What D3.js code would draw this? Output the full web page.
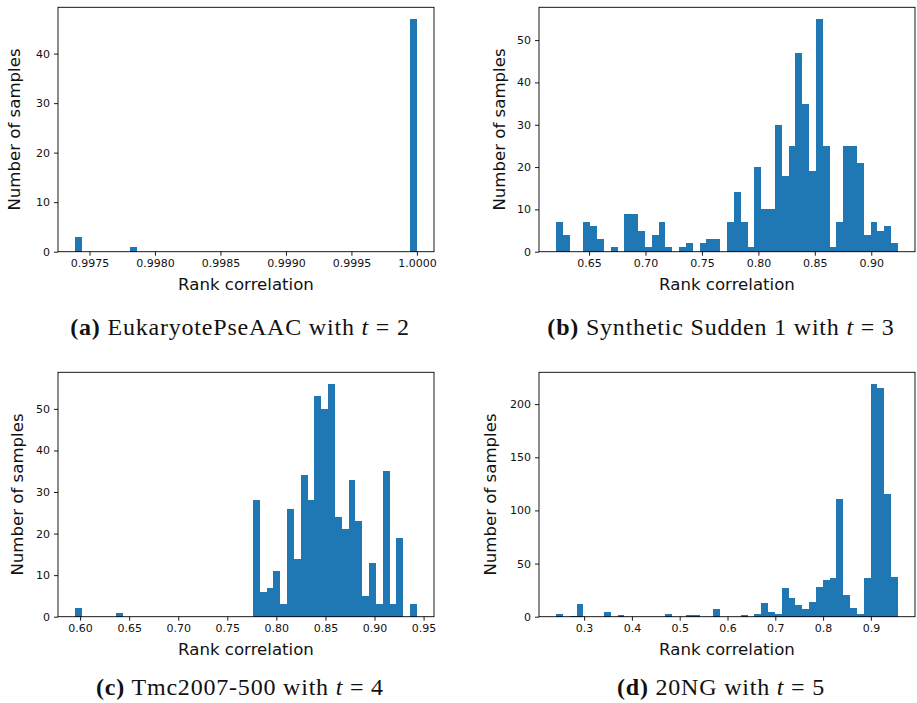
<!DOCTYPE html>
<html>
<head>
<meta charset="utf-8">
<script src="https://cdn.jsdelivr.net/npm/d3@7"></script>
<style>
  html, body { margin: 0; padding: 0; background: #fff; }
  svg { display: block; }
  .tick text { font-family: "DejaVu Sans", sans-serif; font-size: 11px; fill: #111; }
  .tick line { stroke: #000; stroke-width: 0.9; }
  .domain { display: none; }
  .axis-label { font-family: "DejaVu Sans", sans-serif; font-size: 16.6px; fill: #111; }
  .caption { font-family: "Liberation Serif", "Times New Roman", serif; font-size: 24px; fill: #111; letter-spacing: 0.8px; }
</style>
</head>
<body>
<svg id="chart" width="917" height="703"></svg>
<script>
// Histogram counts (50 equal-width bins per panel)
const binsA = [3,0,0,0,0,0,0,0,1,0, 0,0,0,0,0,0,0,0,0,0, 0,0,0,0,0,0,0,0,0,0,
               0,0,0,0,0,0,0,0,0,0, 0,0,0,0,0,0,0,0,0,47];
const binsB = [7,4,0,0,7,6,3,0,1,0, 9,9,5,1,4,7,1,0,1,2, 0,2,3,3,0,7,14,7,1,20,
               10,10,30,18,25,47,35,19,55,25, 1,7,25,25,21,4,7,5,6,2];
const binsC = [2,0,0,0,0,0,1,0,0,0, 0,0,0,0,0,0,0,0,0,0, 0,0,0,0,0,0,28,6,7,11,
               3,26,14,34,28,53,50,56,24,21, 33,23,5,13,3,35,3,19,0,3];
const binsD = [3,0,1,12,0,0,0,4,0,2, 0,0,0,0,0,0,3,0,0,2, 2,0,0,7,0,0,0,2,0,3,
               13,4,3,27,18,11,7,14,28,35, 36,111,20,8,3,36,219,215,115,37];

// Lowest and highest bin edge of each histogram
const rangeA = [0.99739, 1.0];
const rangeB = [0.6208, 0.9236];
const rangeC = [0.5949, 0.9432];
const rangeD = [0.2414, 0.9565];

// Tick values
const xTicksA = [0.9975, 0.9980, 0.9985, 0.9990, 0.9995, 1.0000];
const xTicksB = [0.65, 0.70, 0.75, 0.80, 0.85, 0.90];
const xTicksC = [0.60, 0.65, 0.70, 0.75, 0.80, 0.85, 0.90, 0.95];
const xTicksD = [0.3, 0.4, 0.5, 0.6, 0.7, 0.8, 0.9];
const yTicksA = [0, 10, 20, 30, 40];
const yTicksB = [0, 10, 20, 30, 40, 50];
const yTicksC = [0, 10, 20, 30, 40, 50];
const yTicksD = [0, 50, 100, 150, 200];

// Caption parts
const letters = ["a", "b", "c", "d"];
const datasets = ["EukaryotePseAAC", "Synthetic Sudden 1", "Tmc2007-500", "20NG"];
const tValues = [2, 3, 4, 5];

const xLabel = "Rank correlation";
const yLabel = "Number of samples";
const barColor = "#1f77b4";

const panels = [
  { bins: binsA, range: rangeA, xt: xTicksA, yt: yTicksA, fmt: ".4f", left: 58,  top: 7.3,   ylabOff: 38 },
  { bins: binsB, range: rangeB, xt: xTicksB, yt: yTicksB, fmt: ".2f", left: 539, top: 7.3,   ylabOff: 34 },
  { bins: binsC, range: rangeC, xt: xTicksC, yt: yTicksC, fmt: ".2f", left: 58,  top: 372.3, ylabOff: 35 },
  { bins: binsD, range: rangeD, xt: xTicksD, yt: yTicksD, fmt: ".1f", left: 539, top: 372.3, ylabOff: 43.5 }
];
const W = 376, H = 244.4;
const captionX = [240, 721, 240, 721];
const captionY = [335, 335, 695, 695];

const svg = d3.select("#chart");

panels.forEach((p, k) => {
  const [lo, hi] = p.range;
  const n = p.bins.length;
  const bw = (hi - lo) / n;
  const pad = 0.05 * (hi - lo);
  const x = d3.scaleLinear().domain([lo - pad, hi + pad]).range([0, W]);
  const y = d3.scaleLinear().domain([0, d3.max(p.bins) * 1.05]).range([H, 0]);

  const g = svg.append("g").attr("transform", `translate(${p.left},${p.top})`);

  const data = p.bins.map((c, i) => ({ x0: lo + i * bw, x1: lo + (i + 1) * bw, c }))
                     .filter(d => d.c > 0);
  g.append("g").selectAll("rect").data(data).join("rect")
    .attr("x", d => x(d.x0))
    .attr("width", d => x(d.x1) - x(d.x0))
    .attr("y", d => y(d.c))
    .attr("height", d => y(0) - y(d.c))
    .attr("fill", barColor)
    .attr("shape-rendering", "crispEdges");

  g.append("g").attr("transform", `translate(0,${H})`)
    .call(d3.axisBottom(x).tickValues(p.xt).tickFormat(d3.format(p.fmt)).tickSize(4).tickPadding(4));
  g.append("g")
    .call(d3.axisLeft(y).tickValues(p.yt).tickFormat(d3.format("d")).tickSize(4).tickPadding(4));

  g.append("rect").attr("width", W).attr("height", H)
    .attr("fill", "none").attr("stroke", "#000").attr("stroke-width", 0.9);

  g.append("text").attr("class", "axis-label")
    .attr("x", W / 2).attr("y", H + 38.3).attr("text-anchor", "middle").text(xLabel);
  g.append("text").attr("class", "axis-label")
    .attr("transform", `translate(${-p.ylabOff},${H / 2}) rotate(-90)`)
    .attr("text-anchor", "middle").text(yLabel);

  const cap = svg.append("text").attr("class", "caption")
    .attr("x", captionX[k]).attr("y", captionY[k]).attr("text-anchor", "middle");
  cap.append("tspan").attr("font-weight", "bold").text(`(${letters[k]})`);
  cap.append("tspan").text(` ${datasets[k]} with `);
  cap.append("tspan").attr("font-style", "italic").text("t");
  cap.append("tspan").text(` = ${tValues[k]}`);
});
</script>
</body>
</html>
